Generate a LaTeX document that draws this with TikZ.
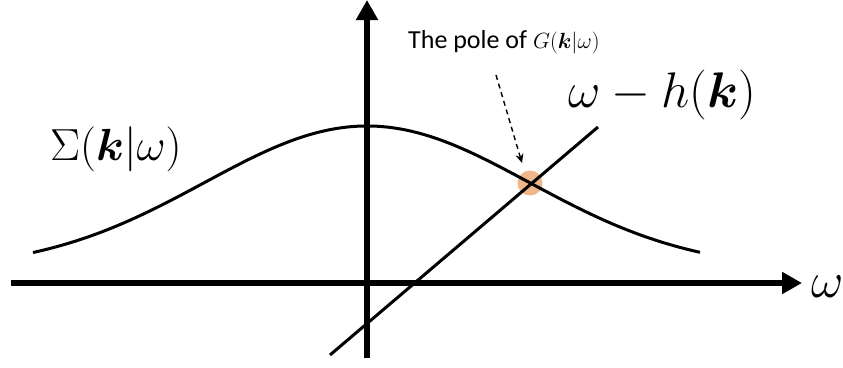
\RequirePackage{fix-cm}
\documentclass[tikz,border=0pt]{standalone}
\usepackage{amsmath}
\usepackage{bm}
\usepackage{fontspec}
\newfontfamily\calib{Carlito}
\usetikzlibrary{arrows.meta}
\definecolor{poleorange}{RGB}{238,182,138}
\tikzset{
  axisline/.style={line width=6pt,-{Triangle[length=20pt,width=21pt]}},
  curveline/.style={line width=3pt},
  pointer/.style={line width=1.4pt,dash pattern=on 5pt off 4pt,-{Stealth[length=9pt,width=8pt]}},
  biglabel/.style={inner sep=0pt,font=\fontsize{50}{60}\selectfont},
}
\begin{document}
\begin{tikzpicture}[x=1pt,y=-1pt]
\useasboundingbox (0,0) rectangle (843,367);
% pole marker
\node[circle,fill=poleorange,minimum size=25pt,inner sep=0pt] (pole) at (530,183) {};
% self-energy curve
\draw[curveline,domain=33:700,samples=160,smooth] plot (\x,{270-144*exp(-((\x-367)/230)^2)});
% straight line omega - h(k)
\coordinate (lbot) at (330,355);
\coordinate (ltop) at (598,127);
\draw[curveline] (lbot) -- (ltop);
% axes
\coordinate (hs) at (11,283);
\coordinate (he) at (802,283);
\coordinate (vs) at (367,358);
\coordinate (ve) at (367,0);
\draw[axisline] (hs) -- (he);
\draw[axisline] (vs) -- (ve);
% labels
\node[biglabel,anchor=base west] (wlab) at (811,297) {$\omega$};
\node[inner sep=0pt,anchor=base west,font=\fontsize{45}{54}\selectfont] (siglab) at (50,160) {$\Sigma(\bm{k}|\omega)$};
\node[biglabel,anchor=base west] (linelab) at (568,107) {$\omega - h(\bm{k})$};
\node[inner sep=0pt,anchor=base west,font=\calib\fontsize{26}{30}\selectfont] (polelab) at (408,48) {The pole of {\fontsize{22}{26}\selectfont$G(\bm{k}|\omega)$}};
% pointer
\coordinate (ps) at (496,75);
\coordinate (pe) at (522,163);
\draw[pointer] (ps) -- (pe);
\end{tikzpicture}
\end{document}
